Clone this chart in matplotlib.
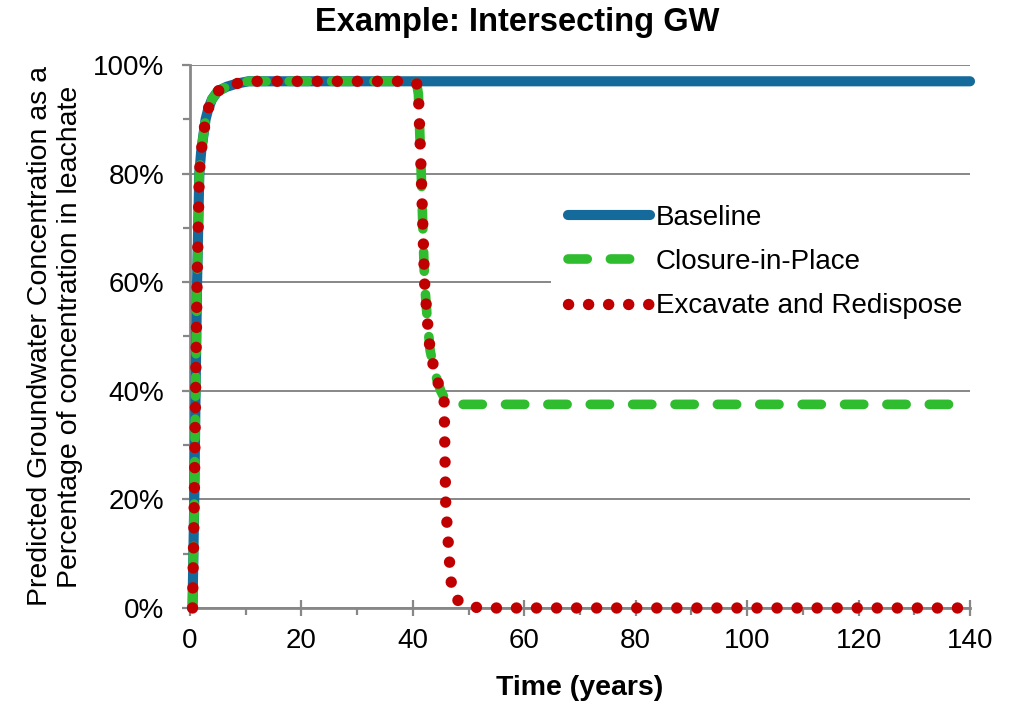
import matplotlib
matplotlib.use("Agg")
import matplotlib.pyplot as plt
from matplotlib.ticker import MultipleLocator, FuncFormatter

plt.rcParams['font.family'] = ['Liberation Sans', 'DejaVu Sans']

# ---- data ----
time = [0.45, 0.77, 1.0, 1.27, 1.67, 2.0, 2.3, 2.8, 3.3, 3.95,
        5.0, 6.6, 8.5, 10.5, 20, 30, 40,
        40.7, 41.0, 41.5, 42.1, 42.6, 43.1, 44.0, 45.0, 45.6,
        45.9, 46.6, 46.9, 47.5, 48.3, 50, 52,
        60, 80, 100, 120, 140]

baseline = [0, .2, .4, .6, .8, .84, .863, .90, .92, .937,
            .952, .96, .966, .97, .97, .97, .97,
            .97, .97, .97, .97, .97, .97, .97, .97, .97,
            .97, .97, .97, .97, .97, .97, .97,
            .97, .97, .97, .97, .97]

closure = [0, .2, .4, .6, .8, .84, .863, .90, .92, .937,
           .952, .96, .966, .97, .97, .97, .97,
           .965, .946, .80, .60, .53, .474, .431, .40, .388,
           .382, .378, .377, .376, .375, .375, .375,
           .375, .375, .375, .375, .375]

excavate = [0, .2, .4, .6, .8, .84, .863, .90, .92, .937,
            .952, .96, .966, .97, .97, .97, .97,
            .965, .946, .80, .60, .53, .474, .431, .40, .388,
            .19, .082, .046, .02, .012, .004, 0,
            0, 0, 0, 0, 0]

series_names = ["Baseline", "Closure-in-Place", "Excavate and Redispose"]
x_ticks = [0, 20, 40, 60, 80, 100, 120, 140]
y_ticks = [0, .2, .4, .6, .8, 1.0]

title = "Example: Intersecting GW"
xlabel = "Time (years)"
ylabel = "Predicted Groundwater Concentration as a\nPercentage of concentration in leachate"

# ---- figure ----
W, H = 1009, 703
fig = plt.figure(figsize=(W / 100, H / 100), dpi=100)
ax = fig.add_axes([190 / W, 1 - 608 / H, (970 - 190) / W, (608 - 65) / H])

gray = '#878787'
blue = '#156a9c'
green = '#2fbd2f'
red = '#c00000'

lw = 7.3
ax.plot(time, baseline, color=blue, lw=lw, solid_capstyle='round',
        solid_joinstyle='round', clip_on=False, zorder=4, label=series_names[0])
ax.plot(time, closure, color=green, lw=lw * 0.95, dashes=(2.0, 2.4),
        dash_capstyle='round', solid_joinstyle='round', clip_on=False,
        zorder=5, label=series_names[1])
ax.plot(time, excavate, color=red, lw=8.2, dashes=(0.01, 1.75),
        dash_capstyle='round', clip_on=False, zorder=6, label=series_names[2])

ax.set_xlim(0, 140)
ax.set_ylim(0, 1.0)
ax.set_xticks(x_ticks)
ax.set_yticks(y_ticks)
ax.xaxis.set_minor_locator(MultipleLocator(10))
ax.yaxis.set_minor_locator(MultipleLocator(0.1))
ax.yaxis.set_major_formatter(FuncFormatter(lambda v, p: f"{v * 100:.0f}%"))

ax.grid(axis='y', which='major', color=gray, lw=1.4, zorder=0)
ax.set_axisbelow(True)
for s in ['top', 'right']:
    ax.spines[s].set_visible(False)
for s in ['left', 'bottom']:
    ax.spines[s].set_color(gray)
    ax.spines[s].set_linewidth(2.0)

ax.tick_params(axis='y', which='major', direction='out', length=6, width=1.6,
               color=gray, labelsize=20, pad=12.5)
ax.tick_params(axis='y', which='minor', direction='out', length=5, width=1.6,
               color=gray)
ax.tick_params(axis='x', which='major', direction='inout', length=12, width=1.6,
               color=gray, labelsize=20, pad=8.5)
ax.tick_params(axis='x', which='minor', direction='out', length=5, width=1.6,
               color=gray)

ax.set_xlabel(xlabel, fontsize=20.5, fontweight='bold', labelpad=15)
ax.set_ylabel(ylabel, fontsize=20.5, labelpad=7.5)
fig.text(517 / W, 1 - 23 / H, title, fontsize=23.5, fontweight='bold',
         ha='center', va='center')

leg = ax.legend(loc='upper left', bbox_to_anchor=(551 / W, 1 - 188 / H),
                bbox_transform=fig.transFigure, borderaxespad=0,
                fontsize=20, frameon=True, facecolor='white', edgecolor='none',
                framealpha=1, fancybox=False, handlelength=2.95,
                handletextpad=0.22, labelspacing=0.66, borderpad=0.6)
leg.set_zorder(7)

fig.savefig("out.png", dpi=100)
